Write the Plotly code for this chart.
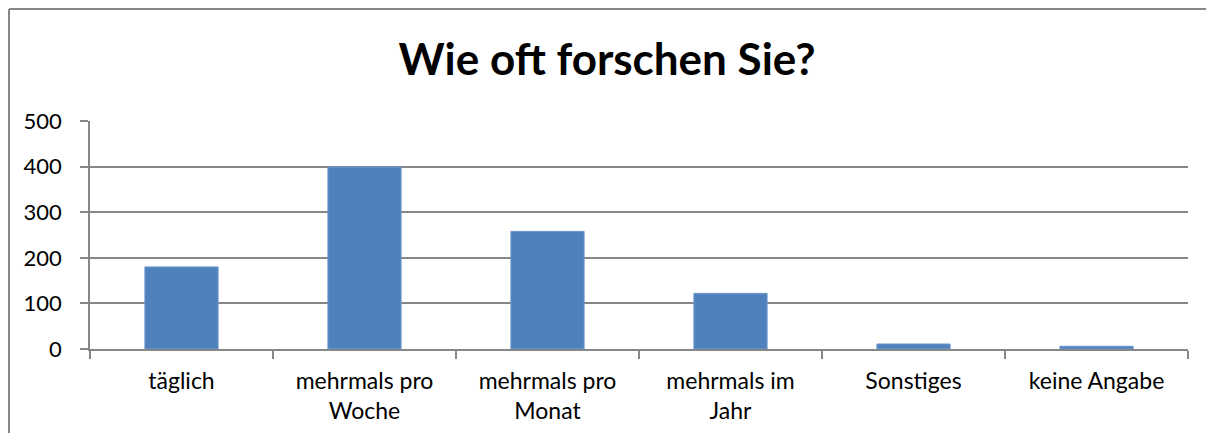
import plotly.graph_objects as go

CATEGORIES = ['täglich', 'mehrmals pro<br>Woche', 'mehrmals pro<br>Monat',
              'mehrmals im<br>Jahr', 'Sonstiges', 'keine Angabe']
COUNTS = [180, 399, 258, 122, 11, 6]
Y_TICKS = [0, 100, 200, 300, 400, 500]

BAR = '#4f81bd'
GRID = '#878787'
FONT = 'Lato, Calibri, Carlito, sans-serif'

fig = go.Figure(go.Bar(x=CATEGORIES, y=COUNTS, marker=dict(color=BAR, line=dict(color='#6f97cc', width=1)),
                       width=0.4))

# the page body adds an 8px margin, so the figure is drawn 16px smaller
W, H = 1198, 427
L, R, T, B = 82, 18, 113, 86
pw, ph = W - L - R, H - T - B

fig.update_layout(
    width=W, height=H,
    margin=dict(l=L, r=R, t=T, b=B),
    paper_bgcolor='white', plot_bgcolor='white',
    font=dict(family=FONT, size=22, color='#000000'),
    showlegend=False,
    title=dict(text='<b>Wie oft forschen Sie?</b>', x=0.5, xanchor='center',
               y=1 - 52 / H, yanchor='middle', font=dict(size=44)),
    shapes=[
        dict(type='line', xref='paper', yref='paper',
             x0=(1 - L) / pw, x1=(W - L) / pw, y0=(H - B - 1) / ph, y1=(H - B - 1) / ph,
             line=dict(color=GRID, width=2), layer='below'),
        dict(type='line', xref='paper', yref='paper',
             x0=(1 - L) / pw, x1=(1 - L) / pw, y0=-(B - 2) / ph, y1=(H - B - 1) / ph,
             line=dict(color=GRID, width=2), layer='below'),
    ],
)
fig.update_yaxes(range=[0, 500], tickvals=Y_TICKS, showgrid=True, gridcolor=GRID, gridwidth=1.5,
                 zeroline=False, showline=True, linecolor=GRID, linewidth=1.5, automargin=False,
                 ticks='outside', ticklen=8, tickcolor=GRID, tickwidth=1.5, ticklabelstandoff=14)
fig.update_xaxes(showline=True, linecolor=GRID, linewidth=1.5, ticks='outside', tickson='boundaries',
                 automargin=False, tickfont=dict(size=23),
                 ticklen=8, tickcolor=GRID, tickwidth=1.5, showgrid=False, ticklabelstandoff=11)

fig.write_html('out.html')
